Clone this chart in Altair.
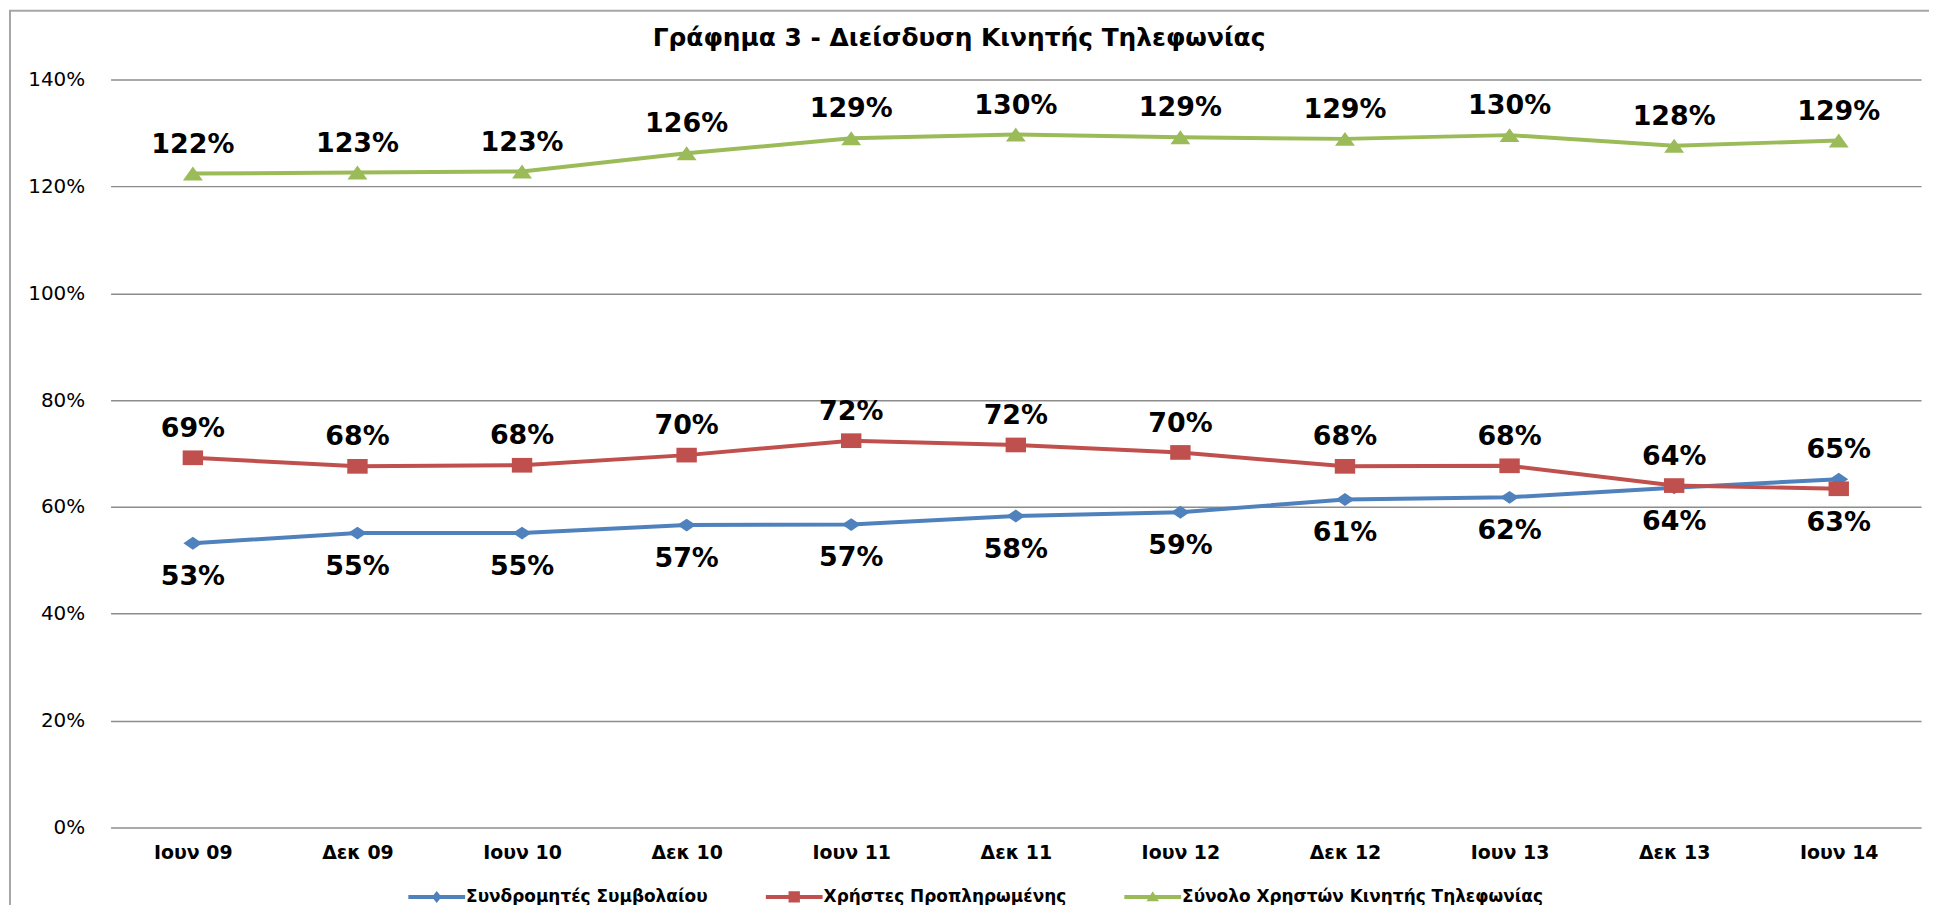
import altair as alt
import pandas as pd

periods = ["Ιουν 09", "Δεκ 09", "Ιουν 10", "Δεκ 10", "Ιουν 11", "Δεκ 11",
           "Ιουν 12", "Δεκ 12", "Ιουν 13", "Δεκ 13", "Ιουν 14"]
series_names = ["Συνδρομητές Συμβολαίου", "Χρήστες Προπληρωμένης",
                "Σύνολο Χρηστών Κινητής Τηλεφωνίας"]
contract = [0.532, 0.551, 0.551, 0.566, 0.567, 0.583, 0.590, 0.614, 0.618, 0.636, 0.652]
prepaid = [0.692, 0.676, 0.678, 0.697, 0.724, 0.716, 0.702, 0.676, 0.677, 0.640, 0.634]
total = [1.224, 1.226, 1.228, 1.262, 1.290, 1.297, 1.292, 1.289, 1.296, 1.276, 1.286]
y_ticks = [0, 0.2, 0.4, 0.6, 0.8, 1.0, 1.2, 1.4]

colors = ["#4F81BD", "#C0504D", "#9BBB59"]
FONT = "DejaVu Sans"

marker_paths = [
    "M0,-0.68 L1,0 L0,0.68 L-1,0 Z",
    "M-1,-0.72 L1,-0.72 L1,0.72 L-1,0.72 Z",
    "M0,-0.7 L1,0.7 L-1,0.7 Z",
]
marker_sizes = [360, 420, 400]
line_part = "M-1,-0.07 L1,-0.07 L1,0.07 L-1,0.07 Z "
legend_paths = [
    line_part + "M0,-0.21 L0.17,0 L0,0.21 L-0.17,0 Z",
    line_part + "M-0.2,-0.2 L0.2,-0.2 L0.2,0.2 L-0.2,0.2 Z",
    line_part + "M0,-0.2 L0.22,0.15 L-0.22,0.15 Z",
]

all_vals = [contract, prepaid, total]
rows = []
for i, p in enumerate(periods):
    for k, name in enumerate(series_names):
        v = all_vals[k][i]
        if k == 2:
            pos = "above"
        else:
            other = all_vals[1 - k][i]
            pos = "above" if v > other else "below"
        rows.append({"period": p, "series": name, "value": v, "pos": pos})
df = pd.DataFrame(rows)

color_scale = alt.Scale(domain=series_names, range=colors)

x_enc = alt.X("period:N", sort=periods, title=None,
              axis=alt.Axis(labelAngle=0, domain=False, ticks=False, grid=False,
                            labelPadding=16, labelFont=FONT, labelFontSize=19,
                            labelFontWeight="bold", labelColor="black"))
y_enc = alt.Y("value:Q", title=None, scale=alt.Scale(domain=[0, 1.4], nice=False),
              axis=alt.Axis(values=y_ticks, format=".0%", grid=True, gridColor="#8c8c8c",
                            gridWidth=1.5, domain=False, ticks=False, labelPadding=26,
                            labelFont=FONT, labelFontSize=20, labelColor="black"))

base = alt.Chart(df).encode(x=x_enc, y=y_enc)

series_layers = []
for k, name in enumerate(series_names):
    sub = base.transform_filter(alt.datum.series == name)
    series_layers.append(sub.mark_line(strokeWidth=4, color=colors[k]))
for k, name in enumerate(series_names):
    sub = base.transform_filter(alt.datum.series == name)
    series_layers.append(
        sub.mark_point(filled=True, opacity=1, shape=marker_paths[k],
                       size=marker_sizes[k], strokeWidth=0, color=colors[k])
    )

labels_above = base.transform_filter(alt.datum.pos == "above").mark_text(
    dy=-21, baseline="alphabetic", font=FONT, fontSize=27, fontWeight="bold", color="black"
).encode(text=alt.Text("value:Q", format=".0%"))

labels_below = base.transform_filter(alt.datum.pos == "below").mark_text(
    dy=42, baseline="alphabetic", font=FONT, fontSize=27, fontWeight="bold", color="black"
).encode(text=alt.Text("value:Q", format=".0%"))

legend_props = dict(
    orient="none", legendX=299, legendY=792, direction="horizontal", title=None,
    symbolSize=3249, symbolStrokeWidth=0, symbolOpacity=1,
    labelFont=FONT, labelFontSize=17, labelFontWeight="bold", labelColor="black",
    labelOffset=1, labelLimit=800, columnPadding=58, padding=0,
)

legend_layer = alt.Chart(df).mark_point(filled=True, opacity=1, clip=True).encode(
    x=alt.value(-500), y=alt.value(-500),
    color=alt.Color("series:N", scale=color_scale, legend=alt.Legend(**legend_props)),
    shape=alt.Shape("series:N", scale=alt.Scale(domain=series_names, range=legend_paths),
                    legend=alt.Legend(**legend_props)),
)

border = alt.Chart(pd.DataFrame({"a": [0]})).mark_rect(
    filled=False, stroke="#a6a6a6", strokeWidth=2
).encode(x=alt.value(-101), x2=alt.value(1860), y=alt.value(-69), y2=alt.value(870))

chart = alt.layer(border, *series_layers, labels_above, labels_below, legend_layer).properties(
    width=1818, height=751,
    padding={"left": 103, "top": 70, "right": 8, "bottom": 76},
    autosize=alt.AutoSizeParams(type="none"),
    title=alt.TitleParams(
        "Γράφημα 3 - Διείσδυση Κινητής Τηλεφωνίας",
        font=FONT, fontSize=25, fontWeight="bold", color="black",
        anchor="middle", dx=-57, dy=41, offset=0,
    ),
).configure_view(strokeWidth=0)

chart.save("out.html", embed_options={"renderer": "svg", "actions": False})
